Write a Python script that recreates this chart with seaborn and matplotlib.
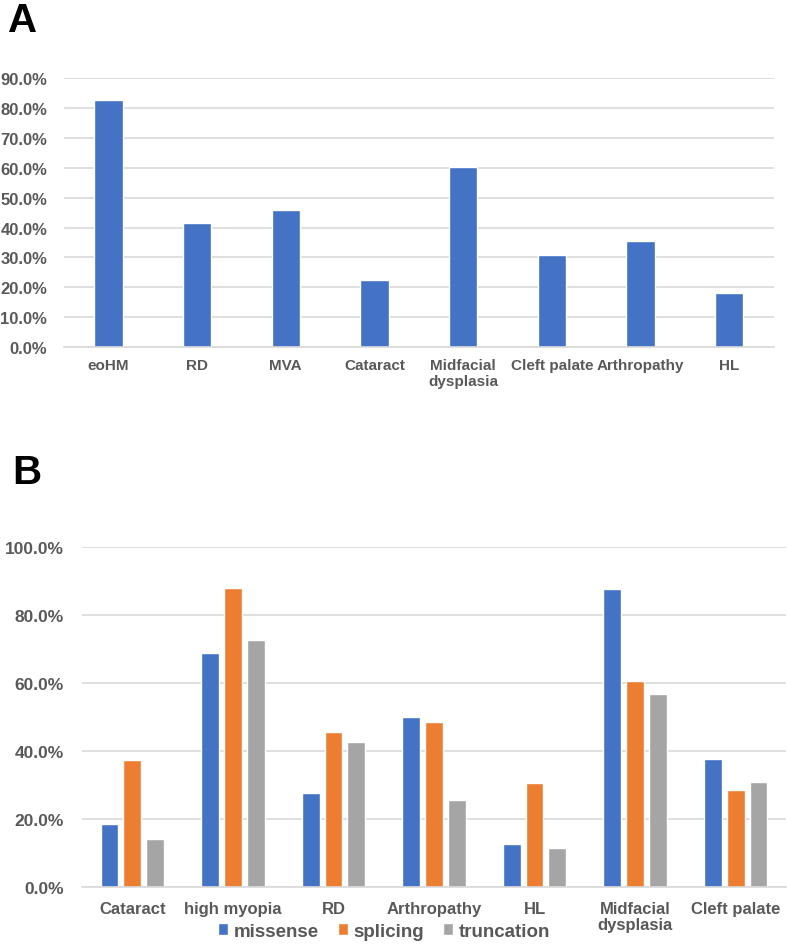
import matplotlib
matplotlib.use("Agg")
import matplotlib.pyplot as plt
from matplotlib.ticker import PercentFormatter, FixedLocator
import seaborn as sns
import pandas as pd

sns.set_style("white")
plt.rcParams['font.family'] = ['Liberation Sans', 'DejaVu Sans']

# panel A data
cats_a = ["eoHM", "RD", "MVA", "Cataract", "Midfacial\ndysplasia",
          "Cleft palate", "Arthropathy", "HL"]
vals_a = [82.7, 41.6, 45.8, 22.3, 60.4, 30.8, 35.4, 18.2]

# panel B data
cats_b = ["Cataract", "high myopia", "RD", "Arthropathy", "HL",
          "Midfacial\ndysplasia", "Cleft palate"]
missense = [18.3, 68.6, 27.5, 49.9, 12.5, 87.6, 37.6]
splicing = [37.3, 87.9, 45.5, 48.5, 30.4, 60.6, 28.4]
truncation = [13.9, 72.7, 42.5, 25.4, 11.4, 56.8, 30.9]

types = ["missense", "splicing", "truncation"]
colors = ["#4472C4", "#ED7D31", "#A5A5A5"]
txt = "#595959"
grid = "#D9D9D9"

df_a = pd.DataFrame({"cat": cats_a, "val": vals_a})
df_b = pd.DataFrame({"cat": cats_b * 3,
                     "type": [t for t in types for _ in cats_b],
                     "val": missense + splicing + truncation})

fig = plt.figure(figsize=(7.87, 9.53), dpi=100)

# ---- A
ax1 = fig.add_axes([0.0813, 0.6348, 0.9017, 0.2822])
sns.barplot(data=df_a, x="cat", y="val", color=colors[0], width=0.32,
            saturation=1, ax=ax1)
ax1.set_ylim(0, 90)
ax1.set_yticks(range(0, 91, 10))
ax1.yaxis.set_major_formatter(PercentFormatter(decimals=1))
ax1.set_xlim(-0.5, len(cats_a) - 0.5)
ax1.xaxis.set_minor_locator(FixedLocator([i - 0.5 for i in range(len(cats_a) + 1)]))
ax1.tick_params(axis="x", which="major", length=0, pad=8)
ax1.tick_params(axis="x", which="minor", length=5, color=grid, width=1)
ax1.tick_params(axis="y", length=0, pad=12)

# ---- B
ax2 = fig.add_axes([0.1042, 0.0685, 0.8945, 0.3568])
sns.barplot(data=df_b, x="cat", y="val", hue="type", palette=colors,
            width=0.68, gap=0.22, saturation=1, ax=ax2)
ax2.set_ylim(0, 100)
ax2.set_yticks(range(0, 101, 20))
ax2.yaxis.set_major_formatter(PercentFormatter(decimals=1))
ax2.set_xlim(-0.5, len(cats_b) - 0.5)
ax2.tick_params(axis="x", length=0, pad=10)
ax2.tick_params(axis="y", length=0, pad=13)
ax2.legend_.remove()

for ax, fsx, fsy in [(ax1, 11, 12), (ax2, 12, 12.5)]:
    ax.set_xlabel("")
    ax.set_ylabel("")
    ax.set_axisbelow(True)
    ax.yaxis.grid(True, color=grid, linewidth=1.2)
    for s in ["top", "right", "left"]:
        ax.spines[s].set_visible(False)
    ax.spines["bottom"].set_color(grid)
    ax.spines["bottom"].set_linewidth(1.2)
    for lab in ax.get_xticklabels():
        lab.set_fontsize(fsx)
        lab.set_fontweight("bold")
        lab.set_color(txt)
        lab.set_linespacing(1.15)
    for lab in ax.get_yticklabels():
        lab.set_fontsize(fsy)
        lab.set_fontweight("bold")
        lab.set_color(txt)

handles, labels = ax2.get_legend_handles_labels()
fig.legend(handles, labels, loc="center", bbox_to_anchor=(0.488, 0.022),
           ncol=3, frameon=False, handlelength=0.55, handleheight=0.55,
           handletextpad=0.3, columnspacing=1.0,
           prop={"size": 13.5, "weight": "bold"}, labelcolor=txt)

fig.text(0.010, 0.966, "A", fontsize=29, fontweight="bold", color="black")
fig.text(0.016, 0.492, "B", fontsize=29, fontweight="bold", color="black")

fig.savefig("out.png", dpi=100, facecolor="white")
